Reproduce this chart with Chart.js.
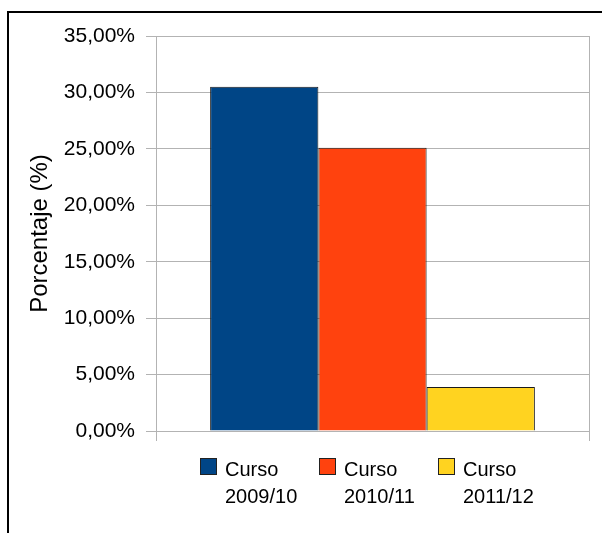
<!DOCTYPE html>
<html>
<head>
<meta charset="utf-8">
<script src="https://cdn.jsdelivr.net/npm/chart.js@4"></script>
<style>
  html, body { margin: 0; padding: 0; background: #fff; }
  #wrap { position: relative; width: 602px; height: 533px; overflow: hidden; background: #fff; }
  #frame { position: absolute; left: 7px; top: 11px; width: 700px; height: 700px;
           border-left: 2px solid #000; border-top: 2px solid #000; box-sizing: border-box; }
  #cv { position: absolute; left: 0; top: 0; }
  .leg { position: absolute; top: 456px; font-family: "Liberation Sans", Arial, sans-serif;
         font-size: 20px; line-height: 27px; color: #000; }
  .leg .box { position: absolute; left: 0; top: 2px; width: 15px; height: 15px; border: 1px solid #222; }
  .leg .txt { position: absolute; left: 25px; top: 0; white-space: nowrap; }
</style>
</head>
<body>
<div id="wrap">
  <div id="frame"></div>
  <canvas id="cv" width="602" height="533"></canvas>
  <div id="legend"></div>
</div>
<script>
const categories = [""];
const seriesNames = [["Curso", "2009/10"], ["Curso", "2010/11"], ["Curso", "2011/12"]];
const seriesValues = [[30.5], [25.1], [3.9]];
const seriesColors = ["#004586", "#ff420e", "#ffd320"];
const yTicks = [0, 5, 10, 15, 20, 25, 30, 35];
const yTitle = "Porcentaje (%)";

const datasets = seriesNames.map((n, i) => ({
  label: n.join(" "),
  data: seriesValues[i],
  backgroundColor: seriesColors[i],
  borderColor: "#1a1a1a",
  borderWidth: 1,
  categoryPercentage: 0.75,
  barPercentage: 1.0
}));

const fontFam = '"Liberation Sans", Arial, sans-serif';
const gridColor = "#b3b3b3";

new Chart(document.getElementById("cv"), {
  type: "bar",
  data: { labels: categories, datasets },
  options: {
    responsive: false,
    animation: false,
    devicePixelRatio: 1,
    layout: { padding: { left: 0, top: 36, right: 13, bottom: 92 } },
    plugins: { legend: { display: false }, tooltip: { enabled: false } },
    scales: {
      x: {
        grid: { display: true, color: gridColor, lineWidth: 1, tickLength: 10, offset: true },
        border: { display: true, color: gridColor },
        ticks: { display: false },
        afterFit: (s) => { s.height = 10; }
      },
      y: {
        min: 0, max: 35,
        afterBuildTicks: (s) => { s.ticks = yTicks.map(v => ({ value: v })); },
        ticks: {
          font: { family: fontFam, size: 21 },
          color: "#000",
          padding: 11,
          callback: (v) => v.toFixed(2).replace(".", ",") + "%"
        },
        grid: { color: gridColor, lineWidth: 1, tickLength: 10 },
        border: { display: true, color: gridColor },
        title: {
          display: true, text: yTitle, color: "#000",
          font: { family: fontFam, size: 24 },
          padding: { top: 26, bottom: 0 }
        },
        afterFit: (s) => { s.width = 156; }
      }
    }
  }
});

// Legend (HTML, real text)
const legendLefts = [200, 319, 438];
const leg = document.getElementById("legend");
seriesNames.forEach((n, i) => {
  const d = document.createElement("div");
  d.className = "leg";
  d.style.left = legendLefts[i] + "px";
  const b = document.createElement("div");
  b.className = "box";
  b.style.background = seriesColors[i];
  const t = document.createElement("div");
  t.className = "txt";
  t.innerHTML = n[0] + "<br>" + n[1];
  d.appendChild(b); d.appendChild(t);
  leg.appendChild(d);
});
</script>
</body>
</html>
